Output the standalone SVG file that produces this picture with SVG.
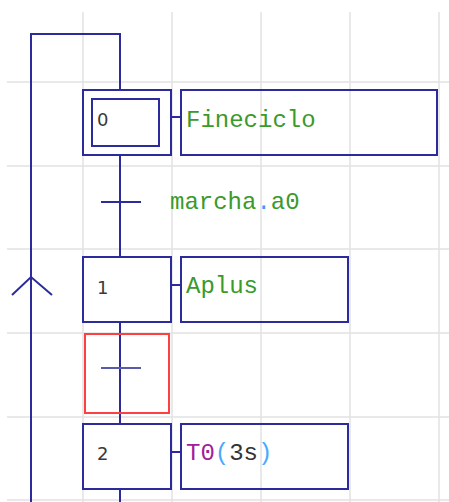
<svg xmlns="http://www.w3.org/2000/svg" width="449" height="502" viewBox="0 0 449 502">
<style>
.grid{stroke:#e2e2e2;stroke-width:1.5;fill:none}
.ln{stroke:#2b2b9b;stroke-width:2;fill:none}
.num{font-family:"DejaVu Sans","Liberation Sans",sans-serif;font-size:18px;fill:#3a3a3a}
.act{font-family:"Liberation Mono","Courier New",monospace;font-size:24px}
.g{fill:#3a9a2a}
</style>
<rect width="449" height="502" fill="#ffffff"/>
<g id="grid" class="grid">
<path d="M83,12V502M172,12V502M261,12V502M350,12V502M439,12V502"/>
<path d="M7,82H449M7,166H449M7,249H449M7,333H449M7,417H449M7,500H449"/>
</g>
<g id="connectors" class="ln">
<path d="M120,90V34H31V502"/>
<path d="M12,295L31,277L52,295"/>
<path d="M120,155V257"/>
<path d="M120,322V424"/>
<path d="M120,489V502"/>
<path d="M171,117H181M171,285H181M171,452H181"/>
</g>
<g id="step0">
<rect class="ln" x="83" y="90" width="88" height="65"/>
<rect class="ln" x="92" y="99" width="67" height="47"/>
<text class="num" x="97" y="126">0</text>
</g>
<g id="action0">
<rect class="ln" x="181" y="90" width="256" height="65"/>
<text class="act g" x="186" y="127">Fineciclo</text>
</g>
<g id="trans0">
<path class="ln" d="M101,202H141"/>
<text class="act g" x="170" y="209">marcha<tspan fill="#3a9aff">.</tspan>a0</text>
</g>
<g id="step1">
<rect class="ln" x="83" y="257" width="88" height="65"/>
<text class="num" x="97" y="294">1</text>
</g>
<g id="action1">
<rect class="ln" x="181" y="257" width="167" height="65"/>
<text class="act g" x="186" y="293">Aplus</text>
</g>
<g id="trans1">
<rect x="85" y="334" width="84" height="79" fill="none" stroke="#ff4040" stroke-width="2"/>
<path d="M101,368H141" stroke="#5a5aaa" stroke-width="2"/>
</g>
<g id="step2">
<rect class="ln" x="83" y="424" width="88" height="65"/>
<text class="num" x="97" y="460">2</text>
</g>
<g id="action2">
<rect class="ln" x="181" y="424" width="167" height="65"/>
<text class="act" x="186" y="460"><tspan fill="#a0209a">T0</tspan><tspan fill="#4aa8ff">(</tspan><tspan fill="#333333">3s</tspan><tspan fill="#4aa8ff">)</tspan></text>
</g>
</svg>
